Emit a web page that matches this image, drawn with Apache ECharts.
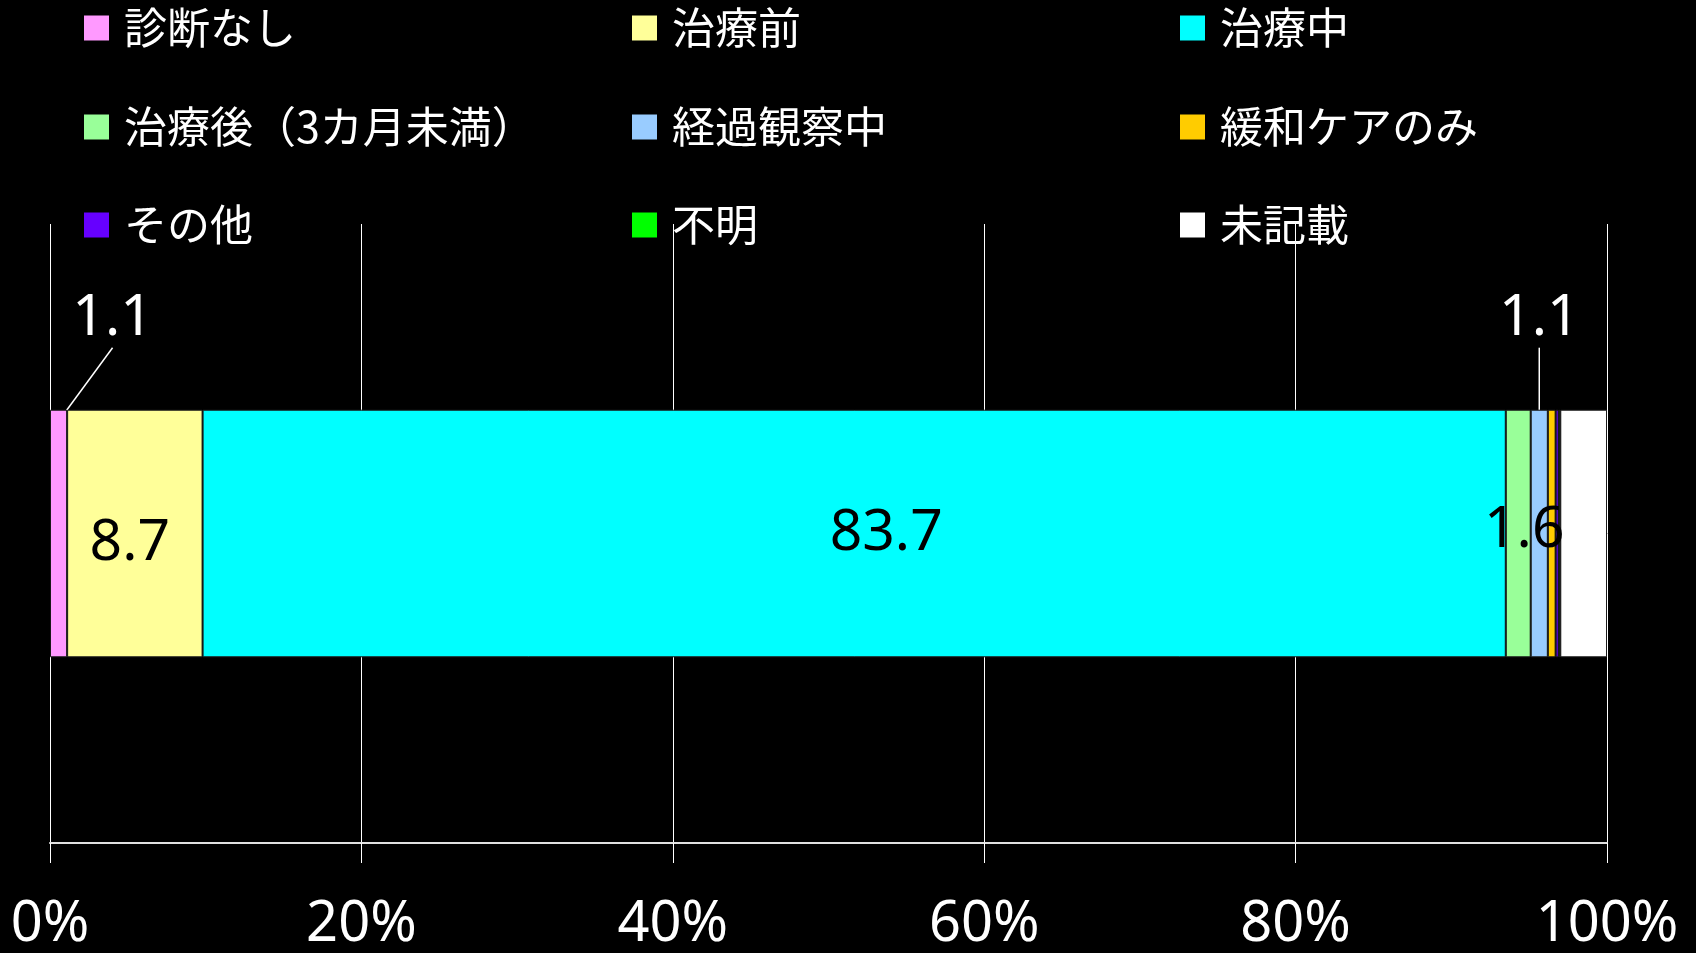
<!DOCTYPE html>
<html>
<head>
<meta charset="utf-8">
<script src="https://cdn.jsdelivr.net/npm/echarts@6/dist/echarts.min.js"></script>
<style>
html,body{margin:0;padding:0;background:#000;}
#chart{width:1696px;height:953px;}
</style>
</head>
<body>
<div id="chart"></div>
<script>
// ---- data ----
const categories = ['診断なし', '治療前', '治療中', '治療後（3カ月未満）', '経過観察中', '緩和ケアのみ', 'その他', '不明', '未記載'];
const values = [1.1, 8.7, 83.7, 1.6, 1.1, 0.5, 0.2, 0.1, 3.0];
const tickValues = [0, 20, 40, 60, 80, 100];
const tickLabels = ['0%', '20%', '40%', '60%', '80%', '100%'];
// which series show a value label
const labelled = [true, true, true, true, true, false, false, false, false];

// ---- style ----
const colors = ['#FF99FF', '#FFFF99', '#00FFFF', '#99FF99', '#99CCFF', '#FFCC00', '#6600FF', '#00FF00', '#FFFFFF'];
const legendCols = [84, 632, 1180];
const legendRows = [3, 102, 200];
const labelFont = 'Noto Sans';

const labelStyles = [
  { position: 'top', distance: 5, color: '#fff', layout: { dx: 54, dy: -57 }, line: true },
  { position: 'inside', color: '#000', offset: [-5, 10] },
  { position: 'inside', color: '#000', offset: [32, 0] },
  { position: 'inside', color: '#000', offset: [6, -3] },
  { position: 'top', distance: 5, color: '#fff', layout: { dx: 0, dy: -57 }, line: true }
];

const chart = echarts.init(document.getElementById('chart'), null, { renderer: 'canvas' });

const legends = categories.map((name, i) => ({
  data: [name],
  left: legendCols[i % 3],
  top: legendRows[Math.floor(i / 3)],
  padding: 0,
  itemWidth: 25,
  itemHeight: 25,
  icon: 'rect',
  selectedMode: false,
  itemStyle: { borderWidth: 0 },
  textStyle: {
    color: '#fff',
    fontSize: 43,
    lineHeight: 50,
    fontFamily: 'Noto Sans CJK JP',
    padding: [0, 0, 0, 10]
  }
}));

const series = categories.map((name, i) => {
  const ls = labelStyles[i];
  const s = {
    type: 'bar',
    name: name,
    stack: 'total',
    barWidth: '40%',
    data: [values[i]],
    itemStyle: { color: colors[i], borderColor: '#1a1a1a', borderWidth: 1 },
    label: { show: false },
    emphasis: { disabled: true }
  };
  if (labelled[i] && ls) {
    s.label = {
      show: true,
      position: ls.position,
      distance: ls.distance || 5,
      offset: ls.offset || [0, 0],
      color: ls.color,
      fontSize: 57,
      fontFamily: labelFont,
      formatter: (p) => p.value.toFixed(1)
    };
    if (ls.layout) s.labelLayout = ls.layout;
    if (ls.line) s.labelLine = { show: true, lineStyle: { color: '#fff', width: 1.5 } };
  }
  return s;
});

chart.setOption({
  backgroundColor: '#000',
  animation: false,
  legend: legends,
  grid: { left: 50, right: 89, top: 224, bottom: 110, containLabel: false },
  xAxis: {
    type: 'value',
    min: tickValues[0],
    max: tickValues[tickValues.length - 1],
    interval: tickValues[1] - tickValues[0],
    axisLine: { show: true, lineStyle: { color: '#e0e0e0', width: 2 } },
    axisTick: { show: true, length: 20, lineStyle: { color: '#fff', width: 1 } },
    splitLine: { show: true, lineStyle: { color: '#fff', width: 1 } },
    axisLabel: {
      color: '#fff',
      fontSize: 56,
      fontFamily: labelFont,
      margin: 54,
      formatter: (v) => tickLabels[tickValues.indexOf(v)]
    }
  },
  yAxis: {
    type: 'category',
    data: [''],
    show: false
  },
  series: series
});
</script>
</body>
</html>
